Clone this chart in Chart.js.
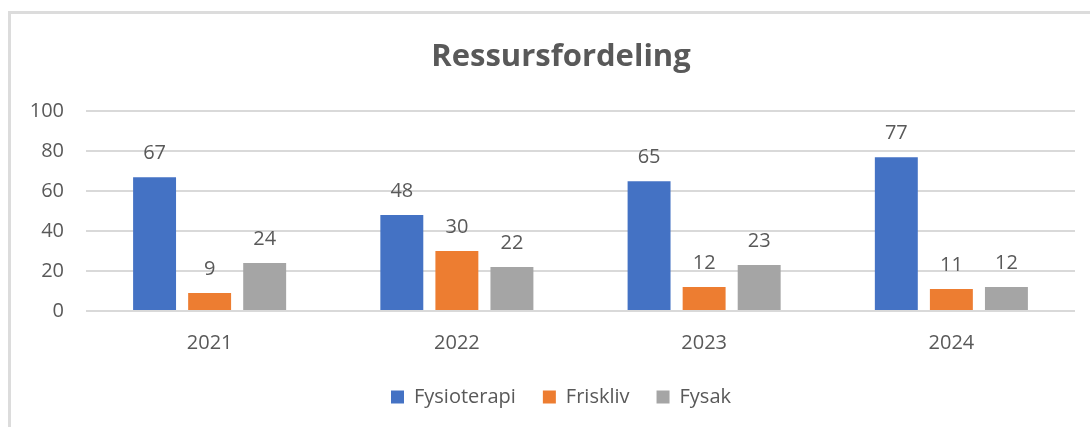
<!DOCTYPE html>
<html>
<head>
<meta charset="utf-8">
<script src="https://cdn.jsdelivr.net/npm/chart.js@4.4.1/dist/chart.umd.min.js"></script>
<style>
  html, body { margin:0; padding:0; background:#fff; overflow:hidden; width:1090px; height:427px; }
  #frame { position:absolute; left:8px; top:11px; width:1200px; height:500px; border-left:3px solid #dcdcdc; border-top:3px solid #dcdcdc; }
  #wrap { position:absolute; left:11px; top:14px; width:1100px; height:413px; }
</style>
</head>
<body>
<div id="frame"></div>
<div id="wrap"><canvas id="c" width="1100" height="413"></canvas></div>
<script>
const categories = ['2021', '2022', '2023', '2024'];
const fysioterapi = [67, 48, 65, 77];
const friskliv = [9, 30, 12, 11];
const fysak = [24, 22, 23, 12];
const yTicks = [0, 20, 40, 60, 80, 100];

const FONT = '"Open Sans", sans-serif';
const TEXT = '#595959';

const valueLabels = {
  id: 'valueLabels',
  afterDatasetsDraw(chart) {
    const ctx = chart.ctx;
    ctx.save();
    ctx.font = '20px ' + FONT;
    ctx.fillStyle = TEXT;
    ctx.textAlign = 'center';
    ctx.textBaseline = 'middle';
    chart.data.datasets.forEach((ds, i) => {
      chart.getDatasetMeta(i).data.forEach((bar, j) => {
        ctx.fillText(String(ds.data[j]), bar.x, bar.y - 24);
      });
    });
    ctx.restore();
  }
};

new Chart(document.getElementById('c'), {
  type: 'bar',
  data: {
    labels: categories,
    datasets: [
      { label: 'Fysioterapi', data: fysioterapi, backgroundColor: '#4472C4' },
      { label: 'Friskliv', data: friskliv, backgroundColor: '#ED7D31' },
      { label: 'Fysak', data: fysak, backgroundColor: '#A5A5A5' }
    ]
  },
  options: {
    responsive: false,
    animation: false,
    devicePixelRatio: 1,
    categoryPercentage: 0.668,
    barPercentage: 0.78,
    layout: { padding: { left: 0, right: 0, top: 0, bottom: 10 } },
    plugins: {
      title: {
        display: true,
        text: 'Ressursfordeling',
        color: TEXT,
        font: { family: FONT, size: 31, weight: 'bold' },
        padding: { top: 25, bottom: 35 }
      },
      legend: {
        position: 'bottom',
        labels: {
          color: TEXT,
          font: { family: FONT, size: 20 },
          boxWidth: 13,
          boxHeight: 13,
          padding: 27
        }
      },
      tooltip: { enabled: false }
    },
    scales: {
      x: {
        afterFit(axis) { axis.height = 49; },
        grid: { display: false, drawTicks: false },
        border: { display: false },
        ticks: { color: TEXT, font: { family: FONT, size: 20 }, padding: 20 }
      },
      y: {
        min: 0,
        max: 100,
        afterBuildTicks(axis) { axis.ticks = yTicks.map(v => ({ value: v })); },
        afterFit(axis) { axis.width = 75; },
        grid: { color: '#d9d9d9', lineWidth: 2, drawTicks: false },
        border: { display: false },
        ticks: { color: TEXT, font: { family: FONT, size: 20 }, padding: 22 }
      },
      yRight: {
        position: 'right',
        min: 0,
        max: 100,
        afterFit(axis) { axis.width = 36; },
        grid: { display: false, drawTicks: false },
        border: { display: false },
        ticks: { display: false }
      }
    }
  },
  plugins: [valueLabels]
});
</script>
</body>
</html>
